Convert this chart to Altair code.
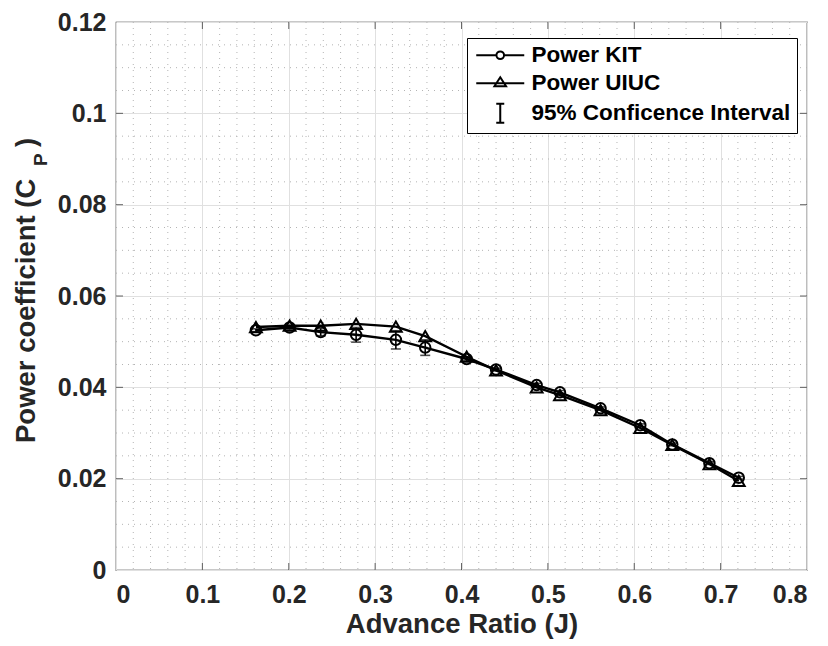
import altair as alt
import pandas as pd
import numpy as np

# ---- data ----
J = [0.162, 0.201, 0.237, 0.278, 0.324, 0.358, 0.406, 0.440, 0.487, 0.514, 0.561, 0.607, 0.644, 0.687, 0.721]
cp_kit = [0.0525, 0.0531, 0.0521, 0.0515, 0.0504, 0.0487, 0.0462, 0.0439, 0.0405, 0.0389, 0.0354, 0.0317, 0.0275, 0.0234, 0.0202]
ci_kit = [0.0003, 0.0004, 0.0008, 0.0016, 0.0020, 0.0017, 0.0004, 0.0003, 0.0004, 0.0004, 0.0003, 0.0003, 0.0003, 0.0003, 0.0003]
cp_uiuc = [0.0532, 0.0535, 0.0535, 0.0539, 0.0533, 0.0512, 0.0467, 0.0437, 0.0400, 0.0383, 0.0350, 0.0311, 0.0274, 0.0232, 0.0195]

series_labels = ["Power KIT", "Power UIUC", "95% Conficence Interval"]
x_ticks = [0, 0.1, 0.2, 0.3, 0.4, 0.5, 0.6, 0.7, 0.8]
y_ticks = [0, 0.02, 0.04, 0.06, 0.08, 0.1, 0.12]

x_minor = [v for v in np.round(np.arange(0, 0.8001, 0.02), 3) if abs(v * 10 - round(v * 10)) > 1e-6]
y_minor = [v for v in np.round(np.arange(0, 0.12001, 0.005), 4) if abs(v * 50 - round(v * 50)) > 1e-6]

W, H = 691, 548
FONT = "Liberation Sans"
INK = "#262626"

kit = pd.DataFrame({"J": J, "Cp": cp_kit, "lo": np.array(cp_kit) - np.array(ci_kit),
                    "hi": np.array(cp_kit) + np.array(ci_kit), "series": "Power KIT"})
uiuc = pd.DataFrame({"J": J, "Cp": cp_uiuc, "series": "Power UIUC"})
both = pd.concat([kit[["J", "Cp", "series"]], uiuc], ignore_index=True)

xs = alt.Scale(domain=[0, 0.8], nice=False, zero=False)
ys = alt.Scale(domain=[0, 0.12], nice=False, zero=False)

xenc = alt.X("J:Q", scale=xs,
             axis=alt.Axis(values=x_ticks, format="~g", title="Advance Ratio (J)",
                           grid=True, gridColor="#e0e0e0", titlePadding=3))
yenc = alt.Y("Cp:Q", scale=ys,
             axis=alt.Axis(values=y_ticks, format="~g", title=None, grid=True, gridColor="#e0e0e0"))

base = alt.Chart(both)

# minor grid (dotted)
xm = alt.Chart(pd.DataFrame({"v": x_minor})).mark_rule(
    color="#b4b4b4", strokeDash=[1, 5], strokeWidth=1).encode(
    x=alt.X("v:Q", scale=xs), y=alt.value(0), y2=alt.value(H))
ym = alt.Chart(pd.DataFrame({"v": y_minor})).mark_rule(
    color="#b4b4b4", strokeDash=[1, 5], strokeWidth=1).encode(
    y=alt.Y("v:Q", scale=ys), x=alt.value(0), x2=alt.value(W))

# inward ticks on all four sides
xt = pd.DataFrame({"v": x_ticks[1:-1]})
yt = pd.DataFrame({"v": y_ticks[1:-1]})
tick_b = alt.Chart(xt).mark_tick(color=INK, size=7, thickness=1).encode(
    x=alt.X("v:Q", scale=xs), y=alt.value(H - 3.5))
tick_t = alt.Chart(xt).mark_tick(color=INK, size=7, thickness=1).encode(
    x=alt.X("v:Q", scale=xs), y=alt.value(3.5))
tick_l = alt.Chart(yt).mark_tick(color=INK, size=7, thickness=1).encode(
    y=alt.Y("v:Q", scale=ys), x=alt.value(3.5))
tick_r = alt.Chart(yt).mark_tick(color=INK, size=7, thickness=1).encode(
    y=alt.Y("v:Q", scale=ys), x=alt.value(W - 3.5))

lines = base.mark_line(color="black", strokeWidth=2.4).encode(
    x=xenc, y=yenc, detail="series:N", order="J:Q")

err = alt.Chart(kit).mark_rule(color="black", strokeWidth=1.6).encode(
    x=alt.X("J:Q", scale=xs), y=alt.Y("lo:Q", scale=ys), y2="hi:Q")
cap_lo = alt.Chart(kit).mark_tick(color="black", size=10, thickness=1.6, orient="horizontal").encode(
    x=alt.X("J:Q", scale=xs), y=alt.Y("lo:Q", scale=ys))
cap_hi = alt.Chart(kit).mark_tick(color="black", size=10, thickness=1.6, orient="horizontal").encode(
    x=alt.X("J:Q", scale=xs), y=alt.Y("hi:Q", scale=ys))

pts_kit = alt.Chart(kit).mark_point(shape="circle", filled=False, color="black",
                                    size=110, strokeWidth=2, opacity=1).encode(
    x=alt.X("J:Q", scale=xs), y=alt.Y("Cp:Q", scale=ys))
pts_uiuc = alt.Chart(uiuc).mark_point(shape="triangle-up", filled=False, color="black",
                                      size=140, strokeWidth=2, opacity=1).encode(
    x=alt.X("J:Q", scale=xs), y=alt.Y("Cp:Q", scale=ys))

# legend-only layer (rows have no position, so nothing is drawn)
leg_df = pd.DataFrame({"series": series_labels, "J": [None] * 3, "Cp": [None] * 3})
sym_kit = "M-2.4,0H-0.38M0.38,0H2.4M0.38,0A0.38,0.38,0,1,1,-0.38,0A0.38,0.38,0,1,1,0.38,0"
sym_uiuc = "M-2.4,0.05H2.4M0,-0.55L0.58,0.35L-0.58,0.35Z"
sym_ci = "M-0.4,-0.95H0.4M0,-0.95V0.95M-0.4,0.95H0.4"
legend_layer = alt.Chart(leg_df).mark_point(filled=False, color="black", size=400,
                                            strokeWidth=2, opacity=1).encode(
    x=alt.X("J:Q", scale=xs), y=alt.Y("Cp:Q", scale=ys),
    shape=alt.Shape("series:N",
                    scale=alt.Scale(domain=series_labels, range=[sym_kit, sym_uiuc, sym_ci]),
                    legend=alt.Legend(title=None, orient="none", legendX=351, legendY=16,
                                      labelFont=FONT, labelFontSize=22.5, labelFontWeight="bold",
                                      labelColor="black", labelLimit=500,
                                      symbolSize=400, symbolStrokeWidth=2,
                                      symbolStrokeColor="black", symbolFillColor="white",
                                      symbolOffset=16, labelOffset=20, rowPadding=4.5,
                                      padding=6, strokeColor="black", fillColor="white",
                                      cornerRadius=0)))

# y-axis title with subscript
t_main = alt.Chart(pd.DataFrame({"t": ["Power coefficient (C"]})).mark_text(
    angle=270, align="left", baseline="alphabetic", font=FONT, fontSize=27.5,
    fontWeight="bold", color=INK).encode(text="t:N", x=alt.value(-81), y=alt.value(421))
t_sub = alt.Chart(pd.DataFrame({"t": ["P"]})).mark_text(
    angle=270, align="left", baseline="alphabetic", font=FONT, fontSize=19,
    fontWeight="bold", color=INK).encode(text="t:N", x=alt.value(-69), y=alt.value(144))
t_close = alt.Chart(pd.DataFrame({"t": [")"]})).mark_text(
    angle=270, align="left", baseline="alphabetic", font=FONT, fontSize=27.5,
    fontWeight="bold", color=INK).encode(text="t:N", x=alt.value(-81), y=alt.value(125))

chart = alt.layer(
    xm, ym, lines, err, cap_lo, cap_hi, pts_kit, pts_uiuc, legend_layer,
    tick_b, tick_t, tick_l, tick_r, t_main, t_sub, t_close
).properties(
    width=W, height=H,
    autosize=alt.AutoSizeParams(type="none"),
    padding={"left": 108, "top": 14, "right": 5, "bottom": 76},
).configure_view(
    stroke=INK, strokeWidth=1.2
).configure_axis(
    domain=False, ticks=False, labelFont=FONT, labelFontSize=25, labelFontWeight="bold",
    labelColor=INK, titleFont=FONT, titleFontSize=27.5, titleFontWeight="bold",
    titleColor=INK, gridWidth=1
).configure_axisX(
    labelPadding=12
).configure_axisY(
    labelPadding=10
)

chart.save("out.html", embed_options={"renderer": "svg", "actions": False})
